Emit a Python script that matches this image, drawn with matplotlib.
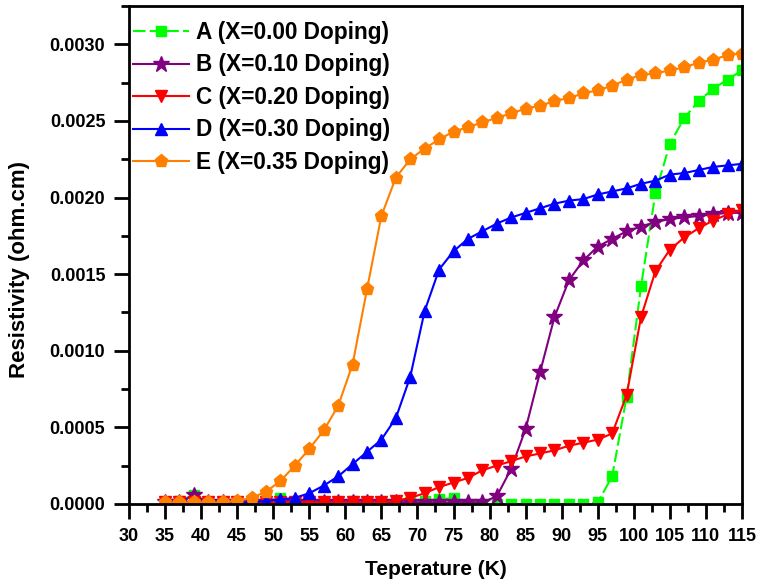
import matplotlib
matplotlib.use('Agg')
import matplotlib.pyplot as plt
from matplotlib.ticker import MultipleLocator, FormatStrFormatter

plt.rcParams['font.family'] = ['Liberation Sans', 'DejaVu Sans']
plt.rcParams['font.weight'] = 'bold'

temp = [35, 37, 39, 41, 43, 45, 47, 49, 51, 53, 55, 57, 59, 61, 63, 65, 67, 69, 71, 73, 75,
        77, 79, 81, 83, 85, 87, 89, 91, 93, 95, 97, 99, 101, 103, 105, 107, 109, 111, 113, 115]

# resistivity (ohm.cm) for each doping level
rho_a = [0.00001, 0.00002, 0.00006, 0.00001, 0.00001, 0.00001, 0.00001, 0.00002, 0.00004, 0.00001,
         0.00002, 0.00001, 0.00001, 0.00002, 0.00001, 0.00001, 0.00001, 0.00001, 0.00002, 0.00003,
         0.00004, 0.0, 0.0, 0.0, 0.0, 0.0, 0.0, 0.0, 0.0, 0.0,
         0.00001, 0.00018, 0.00070, 0.00142, 0.00203, 0.00235, 0.00252, 0.00263, 0.00271, 0.00277,
         0.00283]
rho_b = [0.00001, 0.00001, 0.00006, 0.00001, 0.00001, 0.00001, 0.00001, 0.00001, 0.00001, 0.00001,
         0.00001, 0.00001, 0.00001, 0.00001, 0.00001, 0.00001, 0.00001, 0.00001, 0.00001, 0.00001,
         0.00001, 0.00001, 0.00001, 0.00005, 0.00023, 0.00049, 0.00086, 0.00122, 0.00146, 0.00159,
         0.00168, 0.00173, 0.00178, 0.00181, 0.00184, 0.00186, 0.00187, 0.00188, 0.00189, 0.00190,
         0.00190]
rho_c = [0.00001, 0.00001, 0.00001, 0.00001, 0.00001, 0.00001, 0.00001, 0.00001, 0.00001, 0.00001,
         0.00001, 0.00001, 0.00001, 0.00001, 0.00001, 0.00001, 0.00002, 0.00004, 0.00007, 0.00011,
         0.00014, 0.00017, 0.00022, 0.00025, 0.00028, 0.00031, 0.00033, 0.00035, 0.00038, 0.00040,
         0.00042, 0.00046, 0.00071, 0.00122, 0.00152, 0.00166, 0.00174, 0.00180, 0.00185, 0.00189,
         0.00192]
rho_d = [0.00001, 0.00001, 0.00001, 0.00001, 0.00001, 0.00001, 0.00001, 0.00002, 0.00003, 0.00004,
         0.00007, 0.00012, 0.00018, 0.00026, 0.00034, 0.00042, 0.00056, 0.00083, 0.00126, 0.00153,
         0.00165, 0.00173, 0.00178, 0.00183, 0.00187, 0.00190, 0.00193, 0.00196, 0.00198, 0.00199,
         0.00202, 0.00204, 0.00206, 0.00209, 0.00211, 0.00215, 0.00216, 0.00218, 0.00220, 0.00221,
         0.00222]
rho_e = [0.00001, 0.00001, 0.00001, 0.00001, 0.00001, 0.00002, 0.00004, 0.00008, 0.00015, 0.00025,
         0.00036, 0.00048, 0.00064, 0.00091, 0.00140, 0.00188, 0.00213, 0.00225, 0.00232, 0.00238,
         0.00243, 0.00246, 0.00249, 0.00252, 0.00255, 0.00258, 0.00260, 0.00263, 0.00265, 0.00268,
         0.00270, 0.00273, 0.00277, 0.00280, 0.00281, 0.00283, 0.00285, 0.00288, 0.00290, 0.00293,
         0.00294]

labels = ['A (X=0.00 Doping)', 'B (X=0.10 Doping)', 'C (X=0.20 Doping)',
          'D (X=0.30 Doping)', 'E (X=0.35 Doping)']

fig = plt.figure(figsize=(7.6, 5.85), dpi=100)
ax = fig.add_axes([0.1697, 0.1385, 0.8066, 0.8512])

ax.plot(temp, rho_a, color='#00ff00', lw=1.5, ls=(0, (6, 2)), marker='s', ms=6.5, label=labels[0])
ax.plot(temp, rho_b, color='#800080', lw=1.5, marker='*', ms=12, label=labels[1])
ax.plot(temp, rho_c, color='#ff0000', lw=1.5, marker='v', ms=8.5, label=labels[2])
ax.plot(temp, rho_d, color='#0000ff', lw=1.5, marker='^', ms=8.5, label=labels[3])
ax.plot(temp, rho_e, color='#ff8000', lw=1.5, marker='p', ms=9.5, label=labels[4])

ax.set_xlim(30, 115)
ax.set_ylim(0, 0.00325)
ax.xaxis.set_major_locator(MultipleLocator(5))
ax.xaxis.set_minor_locator(MultipleLocator(2.5))
ax.yaxis.set_major_locator(MultipleLocator(0.0005))
ax.yaxis.set_minor_locator(MultipleLocator(0.00025))
ax.yaxis.set_major_formatter(FormatStrFormatter('%.4f'))

for sp in ax.spines.values():
    sp.set_linewidth(2)
ax.tick_params(which='major', direction='out', length=11, width=2, labelsize=13, pad=6)
ax.tick_params(which='minor', direction='out', length=6, width=2)
ax.tick_params(top=False, right=False, which='both')
for t in ax.get_xticklabels() + ax.get_yticklabels():
    t.set_fontweight('bold')

ax.set_xlabel('Teperature (K)', fontsize=15, fontweight='bold', labelpad=11)
ax.set_ylabel('Resistivity (ohm.cm)', fontsize=16, fontweight='bold', va='center')
ax.yaxis.set_label_coords(-0.179, 0.47)

leg = ax.legend(loc='upper left', bbox_to_anchor=(0.006, 0.97), frameon=False, fontsize=16.3,
                numpoints=1, handlelength=2.5, handletextpad=0.3, labelspacing=0.42,
                borderaxespad=0, borderpad=0)

fig.savefig('out.png', dpi=100)
